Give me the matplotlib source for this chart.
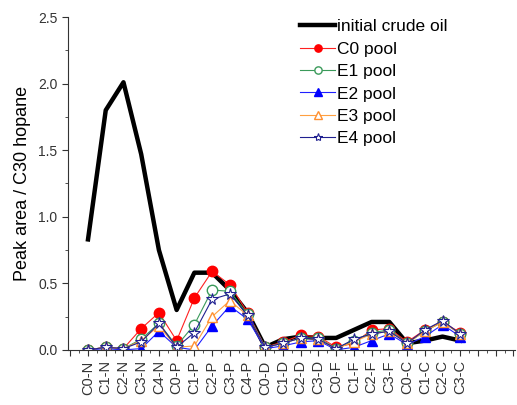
import matplotlib
matplotlib.use('Agg')
import matplotlib.pyplot as plt
from matplotlib.ticker import MultipleLocator

plt.rcParams['font.family'] = ['Liberation Sans', 'DejaVu Sans']

compounds = ['C0-N', 'C1-N', 'C2-N', 'C3-N', 'C4-N',
             'C0-P', 'C1-P', 'C2-P', 'C3-P', 'C4-P',
             'C0-D', 'C1-D', 'C2-D', 'C3-D',
             'C0-F', 'C1-F', 'C2-F', 'C3-F',
             'C0-C', 'C1-C', 'C2-C', 'C3-C']

crude = [0.83, 1.80, 2.01, 1.47, 0.75, 0.30, 0.58, 0.58, 0.45, 0.28,
         0.02, 0.08, 0.10, 0.09, 0.09, 0.15, 0.21, 0.21, 0.05, 0.07, 0.10, 0.07]
c0 = [0.00, 0.02, 0.01, 0.16, 0.28, 0.07, 0.39, 0.59, 0.49, 0.28,
      0.02, 0.06, 0.11, 0.10, 0.02, 0.05, 0.15, 0.16, 0.06, 0.15, 0.21, 0.13]
e1 = [0.00, 0.02, 0.01, 0.08, 0.20, 0.03, 0.19, 0.45, 0.44, 0.27,
      0.02, 0.05, 0.09, 0.09, 0.01, 0.07, 0.13, 0.15, 0.05, 0.14, 0.21, 0.12]
e2 = [0.00, 0.01, 0.00, 0.01, 0.14, 0.02, 0.00, 0.18, 0.33, 0.23,
      0.01, 0.03, 0.06, 0.07, 0.00, 0.02, 0.07, 0.12, 0.04, 0.10, 0.19, 0.10]
e3 = [0.00, 0.02, 0.01, 0.07, 0.18, 0.02, 0.03, 0.25, 0.37, 0.26,
      0.02, 0.05, 0.09, 0.08, 0.01, 0.06, 0.12, 0.14, 0.05, 0.14, 0.21, 0.12]
e4 = [0.00, 0.02, 0.01, 0.06, 0.20, 0.02, 0.13, 0.38, 0.42, 0.26,
      0.02, 0.05, 0.09, 0.08, 0.01, 0.08, 0.12, 0.14, 0.05, 0.15, 0.22, 0.12]

x = list(range(1, len(compounds) + 1))

fig = plt.figure(figsize=(5.17, 4.05), dpi=100)
ax = fig.add_axes([0.1315, 0.136, 0.865, 0.822])

ms = 7.5
ax.plot(x, crude, color='black', lw=3.2, label='initial crude oil')
ax.plot(x, c0, color='#ff2020', lw=0.8, marker='o', ms=ms,
        mfc='#ff0000', mec='#ff0000', label='C0 pool')
ax.plot(x, e1, color='#3a9a5a', lw=0.8, marker='o', ms=ms,
        mfc='white', mec='#3a9a5a', label='E1 pool')
ax.plot(x, e2, color='#2020ff', lw=0.8, marker='^', ms=ms,
        mfc='#0000ff', mec='#0000ff', label='E2 pool')
ax.plot(x, e3, color='#ffa040', lw=0.8, marker='^', ms=ms,
        mfc='white', mec='#ff9030', label='E3 pool')
ax.plot(x, e4, color='#202090', lw=0.8, marker='*', ms=ms + 1,
        mfc='white', mec='#202090', mew=0.8, label='E4 pool')

ax.set_xlim(-0.13, 25.1)
ax.set_ylim(0, 2.5)
ax.spines['top'].set_visible(False)
ax.spines['right'].set_visible(False)
for s in ('left', 'bottom'):
    ax.spines[s].set_color('#333333')

ax.set_xticks(range(0, 26))
ax.set_xticklabels([''] + compounds + ['', '', ''], rotation=90)
ax.xaxis.set_minor_locator(MultipleLocator(0.5))
ax.yaxis.set_major_locator(MultipleLocator(0.5))
ax.yaxis.set_minor_locator(MultipleLocator(0.25))
ax.yaxis.set_major_formatter(plt.FormatStrFormatter('%.1f'))
ax.tick_params(axis='both', which='major', length=4, colors='#333333', labelcolor='#333333')
ax.tick_params(axis='both', which='minor', length=2.5, colors='#333333')
ax.tick_params(axis='y', labelsize=10)
ax.tick_params(axis='x', labelsize=10.5)
ax.set_ylabel('Peak area / C30 hopane', fontsize=13, labelpad=5)

ax.legend(loc='upper left', bbox_to_anchor=(0.5, 1.02), frameon=False,
          fontsize=12.5, handlelength=2.0, handletextpad=0.1, labelspacing=0.42,
          borderpad=0, markerscale=0.7)

fig.savefig('out.png', dpi=100)
